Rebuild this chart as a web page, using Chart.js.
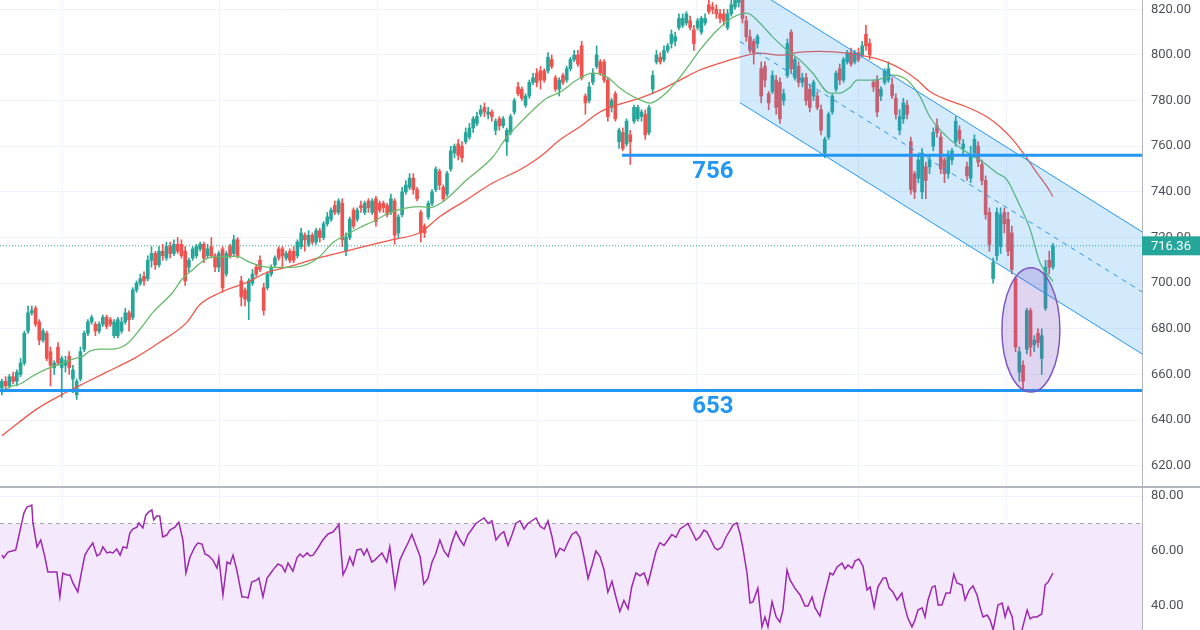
<!DOCTYPE html>
<html>
<head>
<meta charset="utf-8">
<script src="https://cdn.jsdelivr.net/npm/chart.js@4.4.1/dist/chart.umd.min.js"></script>
<style>
	html, body { margin: 0; padding: 0; background: #fff; }
	#wrap { position: relative; width: 1200px; height: 630px; overflow: hidden; }
	#priceBox { position: absolute; left: 0; top: 0; width: 1200px; height: 487px; }
	#rsiBox { position: absolute; left: 0; top: 488px; width: 1200px; height: 142px; }
	#sep { position: absolute; left: 0; top: 486px; width: 1200px; height: 2px; background: #b2b5be; }
</style>
</head>
<body>
<div id="wrap">
	<div id="priceBox"><canvas id="priceChart"></canvas></div>
	<div id="sep"></div>
	<div id="rsiBox"><canvas id="rsiChart"></canvas></div>
</div>
<script>
// daily candles, index 0 .. 281
var opens = [654,657,655,659,657,660,665,679,687,689,683,675,678,670,663,672,663,664,668,658,651,658,671,678,683,682,679,682,685,684,677,677,679,683,687,685,697,700,703,702,710,713,708,714,711,716,713,717,717,714,707,711,712,715,717,712,716,712,707,715,704,716,713,719,701,697,692,700,707,710,698,698,704,708,715,715,711,714,714,712,716,721,717,721,718,723,720,726,728,734,731,735,714,720,732,728,734,731,736,731,737,735,735,734,731,736,722,730,740,742,746,741,731,725,729,735,741,749,742,739,750,757,761,760,762,764,768,770,774,777,774,775,767,772,769,762,766,775,786,785,778,782,788,792,793,793,793,798,790,785,791,789,794,798,800,804,782,780,788,795,797,797,789,777,783,762,766,761,765,771,772,773,774,766,785,797,799,798,802,805,806,812,813,814,815,811,812,810,814,822,821,820,818,818,812,818,821,823,826,815,808,806,805,794,795,783,784,789,788,780,791,810,790,795,788,790,785,782,782,776,757,764,775,785,794,789,797,801,797,801,800,809,805,788,789,782,788,789,787,781,767,772,778,762,748,746,740,751,751,760,769,764,754,748,754,762,767,759,751,746,757,760,752,745,731,702,712,716,731,728,722,702,661,664,671,688,673,678,667,689,710,707];
var highs = [658,659,660,661,662,667,679,690,690,690,684,680,679,672,666,674,668,668,670,664,658,672,679,684,686,683,683,686,686,685,684,685,685,689,688,698,701,704,705,712,716,714,716,717,718,718,719,720,719,716,711,716,717,718,718,717,720,713,714,716,714,717,721,720,703,698,702,706,708,712,700,705,708,712,716,716,714,715,716,719,724,722,723,722,724,724,727,731,733,736,737,737,722,729,733,733,736,736,737,737,738,736,736,735,739,737,730,742,745,748,748,742,732,726,736,741,751,750,743,749,760,761,763,762,768,770,773,775,778,779,777,776,772,773,773,768,774,781,788,786,783,789,792,794,795,794,801,800,791,790,792,795,799,802,802,806,783,788,794,804,798,798,790,781,784,768,768,772,767,778,778,776,776,778,793,802,801,804,805,811,810,818,818,819,817,813,816,817,818,824,823,822,820,820,820,826,828,830,830,817,811,807,809,797,797,784,793,791,790,785,807,811,799,797,792,792,787,789,784,778,764,775,783,793,796,799,802,803,802,803,806,813,807,789,791,786,794,797,790,783,776,781,780,764,749,756,759,753,756,768,772,766,755,758,759,773,769,763,753,760,765,762,754,747,733,711,733,733,733,731,725,703,672,666,689,689,677,680,680,710,714,717.5];
var lows = [651,653,654,656,655,659,664,678,686,681,673,674,666,655,660,664,650,661,660,652,649,657,670,677,682,677,678,681,680,681,676,676,678,682,679,684,696,699,699,701,707,706,707,710,710,711,712,713,711,699,705,710,711,714,709,711,711,705,705,696,703,711,712,711,690,690,684,699,703,705,686,697,703,707,710,707,710,709,709,711,715,714,716,717,717,718,719,725,727,730,730,716,712,719,724,727,731,730,731,730,725,731,731,729,730,717,720,729,739,741,739,736,718,720,728,734,740,741,736,738,749,755,754,753,761,763,766,769,773,773,772,771,765,767,768,756,765,774,782,780,777,781,787,786,785,788,792,794,784,782,787,788,793,797,795,789,774,779,787,794,791,788,771,775,771,759,758,760,752,770,771,771,763,765,783,796,796,797,801,803,804,811,812,813,811,802,811,809,813,818,818,816,814,813,811,817,820,821,814,806,801,796,803,779,786,776,783,774,770,778,790,792,789,786,786,778,775,780,776,765,755,763,774,784,787,788,796,795,796,797,799,802,798,784,773,780,787,788,781,772,765,770,772,739,737,744,737,737,748,758,764,748,744,746,752,760,761,756,745,744,755,751,743,728,714,700,710,713,722,712,704,670,657,653,669,668,670,672,660,688,704,706];
var closes = [657,655,659,657,661,665,678,687,688,682,675,679,667,664,665,665,667,666,663,662,657,670,678,683,685,679,682,685,681,682,683,684,683,687,684,697,700,702,701,710,713,708,714,712,716,713,717,714,712,701,710,715,716,717,711,715,712,707,713,698,713,712,719,712,694,693,701,704,704,706,688,704,707,711,711,712,713,710,710,718,722,719,721,718,723,720,726,729,732,731,736,719,720,728,725,732,733,735,733,736,727,732,733,730,737,721,729,740,743,746,741,737,722,722,735,740,750,743,737,748,758,760,756,755,766,768,772,773,776,775,775,773,771,769,772,767,773,780,783,781,782,788,790,788,789,789,799,795,785,789,788,794,798,800,796,790,779,786,792,800,792,789,773,780,772,767,759,771,762,777,777,775,765,777,791,800,797,802,804,809,808,816,816,818,812,805,815,816,816,819,820,818,816,815,818,822,825,826,816,808,802,801,808,782,789,779,791,777,772,783,805,794,798,788,790,780,777,788,777,767,763,774,782,792,789,798,801,796,801,798,804,804,800,786,775,785,793,794,782,774,773,779,774,741,740,754,757,745,754,766,766,750,748,756,758,771,763,761,747,756,763,753,745,730,717,709,731,730,726,714,706,672,670,657,688,672,675,674,677,707,707,716.36];

// moving averages: [candle index, value]
var ma20 = [[0,652.3],[2.1,654.5],[4.8,655.8],[8.3,659.3],[12,662.4],[15.5,664.5],[19,666.7],[21.7,668],[23.5,670.2],[26.2,671.1],[29.7,671.1],[33.4,673.3],[36.9,679.8],[40.4,687.2],[45.7,696],[48.1,701.6],[51.1,706],[55.6,711.3],[62.8,711.7],[66.3,709.1],[71.7,706.9],[77,706.9],[81.6,708.2],[85,711.7],[88.5,717.8],[92.2,721.3],[95.7,724.4],[99.2,727],[103.7,730.9],[107.2,732.7],[111.8,733.5],[114.4,733.1],[117.9,735.7],[124.3,745.3],[131.3,755.4],[135,764.1],[138.5,770.2],[142,775.9],[145.7,781.1],[149.2,783.7],[153.7,789],[158,792],[161.8,790.3],[165.2,785.5],[167.1,783.3],[170.6,780.3],[173.3,778.9],[177.8,783.7],[182.1,792],[186.6,802.1],[191.2,810.8],[195.5,816.5],[199.2,818.3],[202.7,813.9],[206.1,807.8],[209.9,802.1],[213.4,797.7],[216.8,792],[221.4,783.3],[224.1,783.3],[226.8,785.9],[228.6,789],[232.9,789],[236.6,790.3],[238.2,791.2],[242,789],[245.5,781.6],[248.1,772.8],[252.7,764.1],[257,758.4],[261.5,754],[266,748.3],[268.7,745.3],[271.4,736.6],[274.9,723.5],[277.5,709.1],[281,700.8]];
var ma50 = [[0,633.1],[9.4,644.9],[17.4,652.3],[22.7,656.7],[28.1,661.1],[35,666.7],[42.2,674.1],[49.5,682.9],[52.9,690.5],[58.3,695.8],[65.5,700.3],[70.9,704.7],[77,707.3],[83.2,710.4],[88.5,712.6],[93.9,714.8],[99.2,717],[104.5,719.1],[111.8,722.2],[117.1,729.2],[124.3,736.6],[131.3,744],[138.5,749.7],[143.9,755.4],[149.2,762.8],[154.5,768.5],[159.9,775],[165.2,778.5],[170.6,781.1],[175.9,784.6],[181.3,789],[186.6,793.4],[192,796.4],[197.3,799],[202.7,800.8],[208,799.9],[213.4,801.2],[218.7,801.6],[225.9,800.8],[232.1,799],[236.6,796.9],[240.9,793.4],[244.7,789],[248.1,784],[252.7,780.3],[258,777.2],[263.4,772.8],[266.8,768.5],[270.3,762.8],[273,757.1],[276.7,748.3],[279.4,742.3],[281,737.9]];

// RSI(14): [candle index, value]
var rsi = [[0,58.5],[0.5,57.5],[1.6,59.6],[2.7,60],[3.7,60.4],[4.3,64],[5.3,70.2],[5.9,73.8],[6.7,76],[7.5,76.4],[8,76.7],[8.3,70.2],[9.4,61.5],[10.4,64],[11.5,57.8],[12.3,52.4],[13.6,52.4],[14.7,52.4],[15.5,43.3],[16.3,52],[17.4,51.3],[18.2,51.3],[19,48.4],[20.3,45.1],[21.4,53.1],[22.2,58.5],[23,60.4],[24.3,62.9],[25.4,58.2],[26.2,58.9],[27,61.5],[28.1,59.3],[28.9,59.6],[29.7,59.3],[30.7,60.7],[31.6,58.5],[32.4,61.5],[33.4,61.1],[34.2,66.5],[35,68],[36.1,68.7],[36.6,70.2],[37.7,68.4],[38.5,73.1],[39.3,74.2],[40.1,74.9],[40.6,71.3],[41.4,72.7],[42.2,72.7],[43,65.1],[44.1,65.8],[44.9,67.6],[46.3,68.7],[47.3,70.5],[48.4,64],[49.2,52],[50.3,57.8],[51.6,61.5],[52.4,62.9],[53.5,62.5],[54.3,58.9],[55.3,58.2],[56.4,56.7],[57.5,53.8],[58,57.5],[59.1,44],[60.2,56],[61,55.3],[61.8,58.5],[62.8,53.1],[64.2,43.3],[65,43.3],[65.8,42.9],[66.8,48.7],[68.2,49.5],[68.7,50.2],[69.8,43.3],[70.9,50.2],[71.9,52],[72.7,53.5],[73.8,55.3],[74.9,54.5],[75.7,52.4],[76.5,55.6],[77.8,52.7],[78.9,57.5],[79.7,58.9],[80.5,57.8],[81.6,59.3],[82.4,58.2],[83.2,58.5],[84.5,61.1],[85.8,64],[87.2,66.2],[88.5,66.9],[89.6,68.7],[90.1,69.8],[91.2,51.3],[92.2,54.2],[93,57.8],[93.9,54.9],[94.9,60.4],[96,60.7],[96.8,58.5],[97.6,60.7],[98.9,56],[99.7,56.7],[100.5,57.8],[101.6,59.3],[102.9,56],[103.7,61.5],[105.1,46.9],[106.4,56.7],
	[107.5,60],[108.6,63],[109.6,66],[110.7,62],[111.8,58],[112.8,48],[113.9,50],[115,56],[116,59],[117.1,64],[118.2,60],[119.3,58],[120.3,63],[121.4,67],[122.5,64],[123.5,62],[124.6,66],[125.7,68],[126.7,70],[127.8,71],[128.9,72],[130,70],[131,71],[132.1,64],[133.2,66],[134.2,67],[135.3,62],[136.4,66],[137.4,70],[138.5,71],[139.6,68],[140.6,70],[141.7,71],[142.8,72],[143.9,69],[145,68],[146,71],[147.1,65],[148.1,58],[149.2,61],[150.3,60],[151.3,63],[152.4,66],[153.5,67],[154.5,65],[155.6,58],[156.7,50],[157.8,55],[158.8,60],[159.9,58],[161,53],[162,45],[163.1,49],[164.2,43],[165.2,38],[166.3,42],[167.4,39],[168.4,47],[169.5,52],[170.6,51],[171.7,52],[172.7,48],[173.8,54],[174.9,60],[175.9,63],[177,62],[178.1,64],[179.1,66],[180.2,65],[181.3,68],[182.4,69],[183.4,70],[184.5,67],[185.6,64],
	[186.6,65.1],[187.7,67.6],[188.5,66.9],[189.8,63.3],[190.6,61.1],[191.4,60.4],[192.5,61.5],[193.6,65.1],[194.7,67.6],[195.5,69.5],[196.5,70.2],[197.3,66.5],[198.1,61.1],[199.2,52],[200,41.1],[200.8,41.5],[202.1,46.5],[203.2,32.4],[204,36],[204.8,32.4],[205.9,41.5],[207,36],[208,34.2],[208.8,38.5],[209.9,53.1],[210.7,49.5],[212,46.5],[213.4,44],[214.7,40],[215.5,40],[216.6,43.3],[217.4,39.3],[218.7,36.4],[219.8,43.3],[221.4,52],[222.2,51.3],[223.3,54.2],[224.6,55.6],[225.4,53.5],[226.2,54.9],[227.3,53.8],[228.1,56.4],[229.1,57.1],[230.2,54.5],[231.3,45.8],[232.1,46.9],[233.2,39.6],[234.2,46.9],[235.6,50.2],[236.4,50.2],[237.2,46.5],[238.2,45.1],[239.3,42.2],[240.6,44.7],[241.4,39.6],[242.2,35.6],[243.3,32.4],[244.1,34.9],[244.9,38.5],[246,39.3],[246.8,36],[247.6,42.2],[248.7,46.9],[249.5,47.3],[250.3,40.4],[251.3,40.4],[252.4,44.7],[253.5,44.7],[254.5,51.6],[255.3,48.4],[256.7,47.6],[257.5,42.2],[258.6,45.8],[259.6,47.3],[260.7,44],[261.5,39.6],[262.3,36],[263.4,36.7],[264.2,34.9],[265,31.3],[266.3,40.4],[267.4,41.1],[268.2,36],[269,39.6],[270.1,36],[270.9,28],[271.7,28],[272.7,31.3],[274.1,38.5],[274.9,35.3],[275.7,36],[276.7,36],[278,37.1],[278.9,47.6],[279.7,48.7],[281,52]];

// drawings
var lastPrice = 716.36;
var levels = [756, 653];
var levelStart = [165.8, -0.5];
var channelTop = [[197.3, 832.7], [304.8, 722.5]];
var channelMid = [[197.3, 805.9], [304.8, 696.2]];
var channelBottom = [[197.3, 779.1], [304.8, 669.0]];
var circle = [275.1, 679.5, 7.75, 27.2]; // centre index, centre price, radius in index, radius in price
var monthLines = [16.3, 58.3, 100.5, 143.1, 185.6, 228.9, 268.7];
var priceTicks = [620, 640, 660, 680, 700, 720, 740, 760, 780, 800, 820];
var rsiTicks = [40, 60, 80];
var rsiUpper = 70;

var X_MIN = -0.5, X_MAX = 304.8;
var UP = '#26a69a', DOWN = '#ef5350', BLUE = '#2196f3', GRID = '#f0f3fa';

Chart.defaults.font.family = "Roboto, 'Liberation Sans', sans-serif";

function pts(list) {
	return list.map(function(p) { return { x: p[0], y: p[1] }; });
}
function hline(from, to, value) {
	return [{ x: from, y: value }, { x: to, y: value }];
}
// the axes must not push the plot area in
function noPadding(s) {
	s.paddingTop = 0; s.paddingBottom = 0; s.paddingLeft = 0; s.paddingRight = 0;
}

var candleColors = closes.map(function(c, i) { return c >= opens[i] ? UP : DOWN; });
var wicks = closes.map(function(c, i) { return { x: i, y: [lows[i], highs[i]] }; });
var bodies = closes.map(function(c, i) {
	var lo = Math.min(opens[i], c), hi = Math.max(opens[i], c);
	if (hi - lo < 0.6) { hi = lo + 0.6; }
	return { x: i, y: [lo, hi] };
});

function xScale() {
	return {
		type: 'linear', min: X_MIN, max: X_MAX, offset: false,
		ticks: { display: false },
		grid: { color: GRID, drawTicks: false, offset: false },
		border: { display: false },
		afterBuildTicks: function(s) { s.ticks = monthLines.map(function(v) { return { value: v }; }); },
		afterFit: function(s) { noPadding(s); s.height = 0; }
	};
}

function yScale(min, max, ticks) {
	return {
		position: 'right', min: min, max: max,
		grid: { color: GRID, drawTicks: false },
		border: { display: true, color: '#b2b5be' },
		ticks: { color: '#4f525c', font: { size: 13 }, padding: 9, callback: function(v) { return v.toFixed(2); } },
		afterBuildTicks: function(s) { s.ticks = ticks.map(function(v) { return { value: v }; }); },
		afterFit: function(s) { noPadding(s); s.width = 58; }
	};
}

var drawings = {
	id: 'drawings',
	afterDatasetsDraw: function(chart) {
		var ctx = chart.ctx, x = chart.scales.x, y = chart.scales.y, area = chart.chartArea;
		ctx.save();
		ctx.beginPath();
		ctx.rect(area.left, area.top, area.right - area.left, area.bottom - area.top);
		ctx.clip();

		// ellipse round the last dip
		var cx = x.getPixelForValue(circle[0]), cy = y.getPixelForValue(circle[1]);
		var rx = Math.abs(x.getPixelForValue(circle[0] + circle[2]) - cx);
		var ry = Math.abs(y.getPixelForValue(circle[1] + circle[3]) - cy);
		ctx.beginPath();
		ctx.ellipse(cx, cy, rx, ry, 0, 0, Math.PI * 2);
		ctx.fillStyle = 'rgba(126, 87, 194, 0.25)';
		ctx.fill();
		ctx.lineWidth = 1.5;
		ctx.strokeStyle = '#7e57c2';
		ctx.stroke();

		// level labels
		ctx.fillStyle = BLUE;
		ctx.font = 'bold 24px Roboto, sans-serif';
		ctx.textAlign = 'center';
		ctx.textBaseline = 'middle';
		levels.forEach(function(v) {
			ctx.fillText(String(v), x.getPixelForValue(190.1), y.getPixelForValue(v) + 17);
		});
		ctx.restore();

		// last price tag on the axis
		var py = y.getPixelForValue(lastPrice);
		ctx.save();
		ctx.fillStyle = UP;
		ctx.fillRect(area.right, py - 9.5, chart.width - area.right, 19);
		ctx.fillStyle = '#fff';
		ctx.font = '13px Roboto, sans-serif';
		ctx.textAlign = 'left';
		ctx.textBaseline = 'middle';
		ctx.fillText(lastPrice.toFixed(2), area.right + 9, py + 0.5);
		ctx.restore();
	}
};

var priceChart = new Chart(document.getElementById('priceChart'), {
	type: 'bar',
	data: {
		datasets: [
			{ type: 'line', data: hline(levelStart[0], X_MAX, levels[0]), borderColor: BLUE, borderWidth: 3, pointRadius: 0, order: 1 },
			{ type: 'line', data: hline(levelStart[1], X_MAX, levels[1]), borderColor: BLUE, borderWidth: 3, pointRadius: 0, order: 1 },
			{ type: 'line', data: pts(channelTop), borderColor: BLUE, borderWidth: 1, pointRadius: 0, order: 2 },
			{ type: 'line', data: pts(channelBottom), borderColor: BLUE, borderWidth: 1, pointRadius: 0, order: 2,
				fill: { target: 2 }, backgroundColor: 'rgba(33, 150, 243, 0.2)' },
			{ type: 'line', data: pts(channelMid), borderColor: BLUE, borderWidth: 1, borderDash: [5, 5], pointRadius: 0, order: 2 },
			{ type: 'line', data: pts(ma20), borderColor: '#66bb6a', borderWidth: 1.3, pointRadius: 0, cubicInterpolationMode: 'monotone', order: 3 },
			{ type: 'line', data: pts(ma50), borderColor: '#f0574a', borderWidth: 1.3, pointRadius: 0, cubicInterpolationMode: 'monotone', order: 3 },
			{ data: bodies, backgroundColor: candleColors, barThickness: 3, grouped: false, borderWidth: 0, order: 4 },
			{ data: wicks, backgroundColor: candleColors, barThickness: 1, grouped: false, borderWidth: 0, order: 5 },
			{ type: 'line', data: hline(X_MIN, X_MAX, lastPrice), borderColor: UP, borderWidth: 1, borderDash: [1, 2], pointRadius: 0, order: 6 }
		]
	},
	options: {
		animation: false,
		responsive: true,
		maintainAspectRatio: false,
		devicePixelRatio: 1,
		layout: { padding: 0 },
		plugins: { legend: { display: false }, tooltip: { enabled: false } },
		scales: { x: xScale(), y: yScale(610.67, 824.08, priceTicks) }
	},
	plugins: [drawings]
});

var rsiChart = new Chart(document.getElementById('rsiChart'), {
	type: 'line',
	data: {
		datasets: [
			{ data: pts(rsi), borderColor: '#9c27b0', borderWidth: 1.5, pointRadius: 0, tension: 0, order: 0 },
			{ data: hline(X_MIN, X_MAX, rsiUpper), borderColor: '#a3a6af', borderWidth: 1, borderDash: [4, 4],
				pointRadius: 0, fill: 'start', backgroundColor: '#f4e8fc', order: 1 }
		]
	},
	options: {
		animation: false,
		responsive: true,
		maintainAspectRatio: false,
		devicePixelRatio: 1,
		layout: { padding: 0 },
		plugins: { legend: { display: false }, tooltip: { enabled: false } },
		scales: { x: xScale(), y: yScale(31.27, 82.91, rsiTicks) }
	}
});
</script>
</body>
</html>
